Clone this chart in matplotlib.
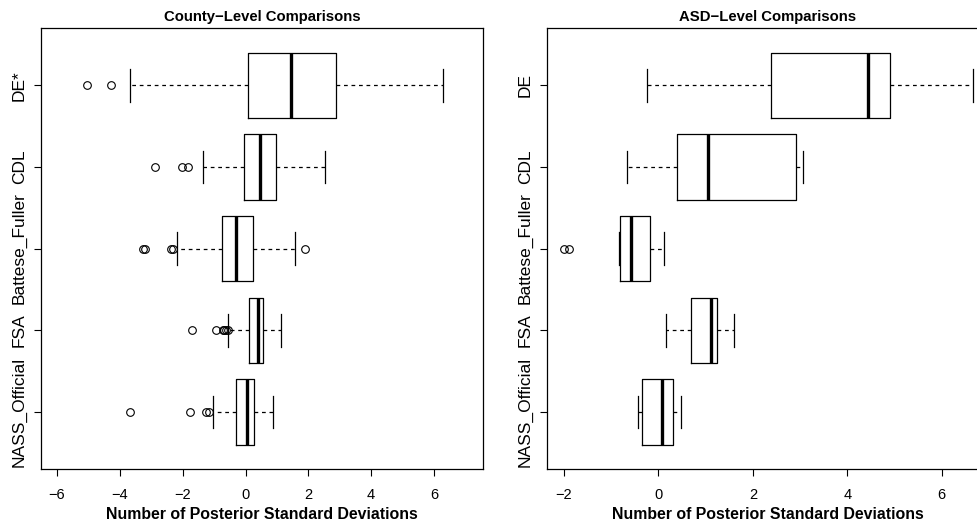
"""Posterior standard deviation comparisons, county and ASD level boxplots."""
import matplotlib
matplotlib.use("Agg")
import matplotlib.pyplot as plt

plt.rcParams["font.family"] = ["Liberation Sans", "DejaVu Sans"]

# bottom to top
labels_county = ["NASS_Official", "FSA", "Battese_Fuller", "CDL", "DE*"]
labels_asd = ["NASS_Official", "FSA", "Battese_Fuller", "CDL", "DE"]

# county level: whisker low, q1, median, q3, whisker high
county_wlo = [-1.04, -0.55, -2.17, -1.34, -3.68]
county_q1 = [-0.29, 0.11, -0.76, -0.06, 0.09]
county_med = [0.06, 0.40, -0.31, 0.45, 1.44]
county_q3 = [0.27, 0.57, 0.24, 0.98, 2.88]
county_whi = [0.89, 1.13, 1.59, 2.52, 6.30]
county_out = [
    [-3.67, -1.78, -1.27, -1.16],
    [-1.70, -0.94, -0.73, -0.67, -0.62, -0.57],
    [-3.27, -3.19, -2.37, -2.30, 1.89],
    [-2.88, -2.03, -1.82],
    [-5.06, -4.29],
]

# ASD level
asd_wlo = [-0.44, 0.16, -0.83, -0.67, -0.25]
asd_q1 = [-0.34, 0.68, -0.81, 0.40, 2.38]
asd_med = [0.07, 1.11, -0.58, 1.05, 4.43]
asd_q3 = [0.30, 1.25, -0.17, 2.92, 4.90]
asd_whi = [0.47, 1.59, 0.11, 3.07, 6.66]
asd_out = [[], [], [-2.00, -1.90], [], []]

W, H = 978, 527


def make_stats(wlo, q1, med, q3, whi, out):
    return [dict(whislo=a, q1=b, med=c, q3=d, whishi=e, fliers=f)
            for a, b, c, d, e, f in zip(wlo, q1, med, q3, whi, out)]


def draw_panel(ax, stats, labels, title, xlim, xticks):
    ax.bxp(stats, positions=range(1, len(stats) + 1), vert=False, widths=0.8,
           showfliers=True, patch_artist=False,
           boxprops=dict(color="black", lw=0.9),
           medianprops=dict(color="black", lw=2.4),
           whiskerprops=dict(color="black", lw=0.9, ls=(0, (3, 3))),
           capprops=dict(color="black", lw=0.9),
           capwidths=0.4,
           flierprops=dict(marker="o", markerfacecolor="none",
                           markeredgecolor="black", markersize=5.5,
                           markeredgewidth=0.8))
    ax.set_xlim(*xlim)
    ax.set_ylim(0.3, 5.7)
    ax.set_xticks(xticks)
    ax.set_xticklabels([str(t).replace("-", "\u2212") for t in xticks])
    ax.set_yticks(range(1, len(labels) + 1))
    ax.set_yticklabels(labels, rotation=90, va="center")
    ax.tick_params(axis="both", direction="out", length=5, width=0.8)
    ax.tick_params(axis="x", labelsize=10.5, pad=8.5)
    ax.tick_params(axis="y", labelsize=12.5, pad=5)
    for s in ax.spines.values():
        s.set_linewidth(0.9)
    ax.set_title(title, fontsize=10.7, fontweight="bold", pad=5)
    ax.set_xlabel("Number of Posterior Standard Deviations", fontsize=11.4,
                  fontweight="bold", labelpad=3.5)


fig = plt.figure(figsize=(W / 100, H / 100), dpi=100)
ax1 = fig.add_axes([41 / W, (H - 469) / H, 442 / W, 441 / H])
ax2 = fig.add_axes([547 / W, (H - 469) / H, 442 / W, 441 / H])

draw_panel(ax1, make_stats(county_wlo, county_q1, county_med, county_q3,
                           county_whi, county_out),
           labels_county, "County\u2212Level Comparisons", (-6.51, 7.56),
           [-6, -4, -2, 0, 2, 4, 6])
draw_panel(ax2, make_stats(asd_wlo, asd_q1, asd_med, asd_q3, asd_whi, asd_out),
           labels_asd, "ASD\u2212Level Comparisons", (-2.36, 7.0),
           [-2, 0, 2, 4, 6])

fig.savefig("out.png", dpi=100)
